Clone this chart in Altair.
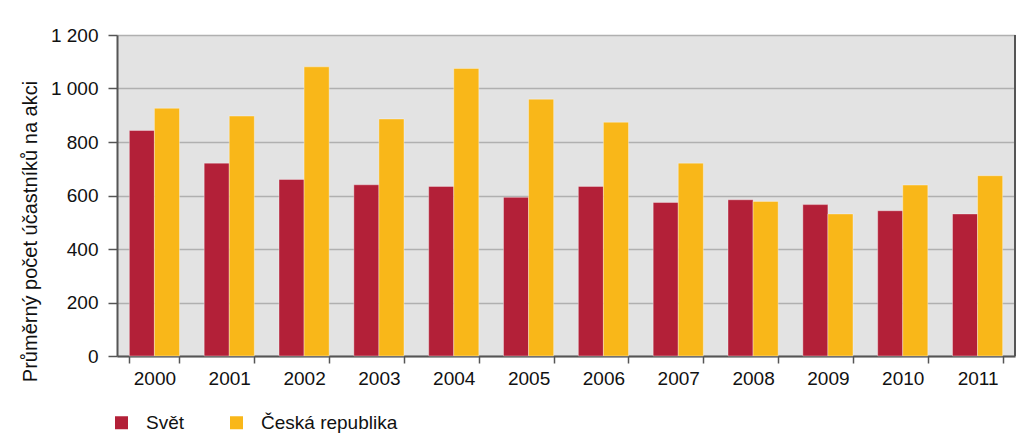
import altair as alt
import pandas as pd

# Average number of participants per event, world vs. Czech Republic
years = ["2000", "2001", "2002", "2003", "2004", "2005",
         "2006", "2007", "2008", "2009", "2010", "2011"]
series_names = ["Svět", "Česká republika"]
svet = [843, 721, 660, 640, 634, 593, 634, 574, 584, 566, 543, 531]
ceska = [926, 897, 1081, 886, 1075, 960, 874, 721, 578, 531, 639, 674]
colors = ["#b32038", "#f9b719"]
y_ticks = [0, 200, 400, 600, 800, 1000, 1200]

rows = []
for i, yr in enumerate(years):
    rows.append({"rok": yr, "serie": series_names[0], "hodnota": svet[i]})
    rows.append({"rok": yr, "serie": series_names[1], "hodnota": ceska[i]})
df = pd.DataFrame(rows)

FONT = "Liberation Sans, sans-serif"
W, H = 898, 321

bars = alt.Chart(df).mark_bar(
    stroke="white", strokeWidth=1, strokeOpacity=0.35
).encode(
    x=alt.X(
        "rok:N",
        sort=years,
        scale=alt.Scale(paddingInner=0.33, paddingOuter=0.165),
        axis=alt.Axis(
            title=None, labelAngle=0, labelFontSize=19, labelFont=FONT,
            labelColor="#111", labelPadding=6, tickBand="extent",
            tickSize=7, tickWidth=1.5, tickColor="#555",
            domainColor="#555", domainWidth=2, grid=False,
        ),
    ),
    xOffset=alt.XOffset("serie:N", sort=series_names,
                        scale=alt.Scale(paddingInner=0, paddingOuter=0)),
    y=alt.Y(
        "hodnota:Q",
        scale=alt.Scale(domain=[0, 1200], nice=False),
        axis=alt.Axis(
            title="Průměrný počet účastníků na akci",
            titleFont=FONT, titleFontSize=20, titleFontWeight="normal",
            titleColor="#111", titleAngle=-90, titleAlign="center",
            titleBaseline="alphabetic", titleX=-81, titleY=196,
            values=y_ticks, labelFontSize=19, labelFont=FONT,
            labelColor="#111", labelPadding=10,
            labelExpr="replace(format(datum.value, ','), ',', ' ')",
            tickSize=9, tickWidth=1.5, tickColor="#555",
            domainColor="#555", domainWidth=2,
            grid=True, gridColor="#b0b0b0", gridWidth=1.5,
        ),
    ),
    color=alt.Color(
        "serie:N",
        sort=series_names,
        scale=alt.Scale(domain=series_names, range=colors),
        legend=alt.Legend(
            title=None, orient="none", direction="horizontal",
            legendX=-5, legendY=378, padding=0,
            symbolType="square", symbolSize=169, symbolStrokeWidth=0,
            labelFont=FONT, labelFontSize=19, labelColor="#111",
            labelOffset=15, columnPadding=42,
        ),
    ),
)

right_edge = alt.Chart(df).mark_rule(color="#555", strokeWidth=2).encode(
    x=alt.value(W), y=alt.value(0), y2=alt.value(H)
)

chart = alt.layer(bars, right_edge).properties(
    width=W,
    height=H,
    padding={"left": 117, "top": 35, "right": 9, "bottom": 80},
    autosize=alt.AutoSizeParams(type="none"),
    background="white",
).configure_view(stroke=None, fill="#e3e3e3")

chart.save("out.html", embed_options={"renderer": "svg", "actions": False})
